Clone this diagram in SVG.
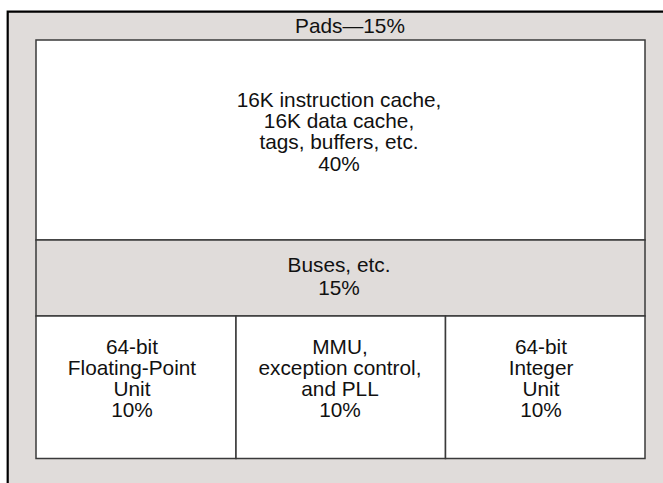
<svg xmlns="http://www.w3.org/2000/svg" width="663" height="483" viewBox="0 0 663 483">
<style>
text{font-family:"Liberation Sans",Arial,Helvetica,sans-serif;font-size:20.8px;fill:#111;text-anchor:middle}
.gray{fill:#e0dcda}
.box{stroke:#3a3a3a;stroke-width:1.5}
</style>
<rect width="663" height="483" fill="#ffffff"/>
<g id="pads">
<rect class="gray" x="7.7" y="11.7" width="660" height="480"/>
<path d="M7.7,483 V11.7 H663" fill="none" stroke="#000" stroke-width="2.2"/>
<text x="350" y="32.5">Pads—15%</text>
</g>
<g id="cache">
<rect x="36" y="40" width="609" height="200" fill="#fff" class="box"/>
<text x="339" y="106.5">16K instruction cache,</text>
<text x="339" y="128">16K data cache,</text>
<text x="339" y="149.3">tags, buffers, etc.</text>
<text x="339" y="170.5">40%</text>
</g>
<g id="buses">
<rect x="36" y="240" width="609" height="76" class="gray box"/>
<text x="339" y="272">Buses, etc.</text>
<text x="339" y="294.5">15%</text>
</g>
<g id="fpu">
<rect x="36" y="316" width="200" height="142.5" fill="#fff" class="box"/>
<text x="132" y="353.5">64-bit</text>
<text x="132" y="374.5">Floating-Point</text>
<text x="132" y="395.5">Unit</text>
<text x="132" y="416.5">10%</text>
</g>
<g id="mmu">
<rect x="236" y="316" width="209.5" height="142.5" fill="#fff" class="box"/>
<text x="340" y="354">MMU,</text>
<text x="340" y="375">exception control,</text>
<text x="340" y="396">and PLL</text>
<text x="340" y="417">10%</text>
</g>
<g id="iu">
<rect x="445.5" y="316" width="199.5" height="142.5" fill="#fff" class="box"/>
<text x="541" y="353.5">64-bit</text>
<text x="541" y="374.5">Integer</text>
<text x="541" y="395.5">Unit</text>
<text x="541" y="416.5">10%</text>
</g>
<g id="connectors"></g>
</svg>
